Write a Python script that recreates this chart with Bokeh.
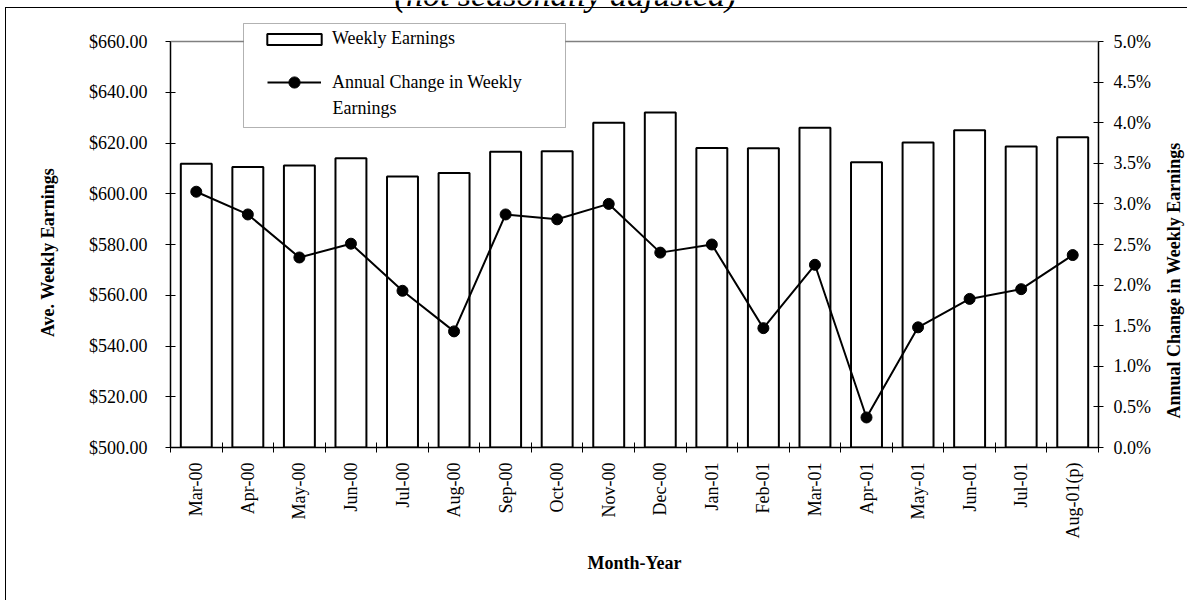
import math
from bokeh.plotting import figure
from bokeh.models import (ColumnDataSource, Range1d, LinearAxis, FixedTicker,
                          NumeralTickFormatter, CustomJSTickFormatter, Legend,
                          LegendItem, BoxAnnotation, Label, Span)
from bokeh.embed import file_html
from bokeh.resources import INLINE

# ---------------- data ----------------
months = ["Mar-00", "Apr-00", "May-00", "Jun-00", "Jul-00", "Aug-00", "Sep-00",
          "Oct-00", "Nov-00", "Dec-00", "Jan-01", "Feb-01", "Mar-01", "Apr-01",
          "May-01", "Jun-01", "Jul-01", "Aug-01(p)"]
weekly_earnings = [611.8, 610.5, 611.1, 614.0, 606.8, 608.2, 616.6, 616.7, 628.0,
                   632.0, 618.0, 617.9, 626.0, 612.4, 620.2, 625.0, 618.6, 622.3]
annual_change_pct = [3.15, 2.87, 2.34, 2.51, 1.93, 1.43, 2.87, 2.81, 3.00, 2.40,
                     2.50, 1.47, 2.25, 0.37, 1.48, 1.83, 1.95, 2.37]
left_ticks = [500, 520, 540, 560, 580, 600, 620, 640, 660]
right_ticks = [0.0, 0.5, 1.0, 1.5, 2.0, 2.5, 3.0, 3.5, 4.0, 4.5, 5.0]

FONT = "Liberation Serif"

# layout (pixels)
FRAME_W, AXIS_H, HEAD = 928, 406, 41   # head = room above the $660 line inside frame
LEFT_MIN, LEFT_MAX = 500, 660
RIGHT_MIN, RIGHT_MAX = 0, 5
top_left = LEFT_MAX + HEAD * (LEFT_MAX - LEFT_MIN) / AXIS_H
top_right = RIGHT_MAX + HEAD * (RIGHT_MAX - RIGHT_MIN) / AXIS_H

xpos = [i + 0.5 for i in range(len(months))]
src = ColumnDataSource(dict(x=xpos, earn=weekly_earnings, pct=annual_change_pct, m=months))

p = figure(width=1187, height=600, frame_width=FRAME_W, frame_height=AXIS_H + HEAD,
           min_border_left=170, min_border_right=89, min_border_top=0, min_border_bottom=153,
           x_range=Range1d(0, len(months)), y_range=Range1d(LEFT_MIN, top_left),
           output_backend="svg", toolbar_location=None, tools="")
p.extra_y_ranges = {"pct": Range1d(RIGHT_MIN, top_right)}
p.xgrid.visible = False
p.ygrid.visible = False
p.outline_line_color = None
p.background_fill_alpha = 0
p.border_fill_alpha = 0
# outer chart border (left and top edges) drawn behind the transparent canvas
p.styles = {
    "background-color": "white",
    "background-image": "linear-gradient(#000,#000), linear-gradient(#000,#000)",
    "background-size": "1px 100%, 100% 1px",
    "background-position": "5px 7px, 5px 7px",
    "background-repeat": "no-repeat",
}

# top line of the plot area at $660
p.add_layout(Span(location=LEFT_MAX, dimension="width", line_color="#808080", line_width=1.5))

bars = p.vbar(x="x", top="earn", bottom=LEFT_MIN, width=0.6, source=src,
              fill_color="white", line_color="black", line_width=2)
ln = p.line(x="x", y="pct", source=src, y_range_name="pct", line_color="black", line_width=2)
dots = p.scatter(x="x", y="pct", source=src, y_range_name="pct", size=11,
                 fill_color="black", line_color="black")

# x axis
xa = p.xaxis[0]
xa.ticker = FixedTicker(ticks=xpos, minor_ticks=list(range(len(months) + 1)))
xa.formatter = CustomJSTickFormatter(args=dict(labels=months),
                                     code="return labels[Math.floor(tick)];")
xa.major_label_orientation = math.pi / 2
xa.major_tick_in = 0
xa.major_tick_out = 0
xa.minor_tick_in = 5
xa.minor_tick_out = 5
xa.major_label_standoff = 10
xa.axis_label = "Month-Year"
xa.axis_label_standoff = 12

# left axis
ya = p.yaxis[0]
ya.ticker = FixedTicker(ticks=left_ticks)
ya.formatter = NumeralTickFormatter(format="$0.00")
ya.bounds = (LEFT_MIN, LEFT_MAX)
ya.major_tick_in = 5
ya.major_tick_out = 5
ya.major_label_standoff = 18

# right axis
ra = LinearAxis(y_range_name="pct")
ra.ticker = FixedTicker(ticks=right_ticks)
ra.formatter = CustomJSTickFormatter(code="return tick.toFixed(1) + '%';")
ra.bounds = (RIGHT_MIN, RIGHT_MAX)
ra.major_tick_in = 5
ra.major_tick_out = 5
ra.major_label_standoff = 10
p.add_layout(ra, "right")

for ax in (xa, ya, ra):
    ax.axis_line_color = "black"
    ax.axis_line_width = 1.5
    ax.major_tick_line_color = "black"
    ax.minor_tick_line_color = "black" if ax is xa else None
    ax.major_label_text_font = FONT
    ax.major_label_text_font_size = "18px"
    ax.major_label_text_color = "black"
    ax.axis_label_text_font = FONT
    ax.axis_label_text_font_size = "18px"
    ax.axis_label_text_font_style = "bold"
    ax.axis_label_text_color = "black"

# vertical axis titles (reading bottom-to-top), placed in the side panels
label_style = dict(x_units="canvas", y_units="canvas", angle=math.pi / 2,
                   text_font=FONT, text_font_size="18px", text_font_style="bold",
                   text_align="center", text_baseline="middle", text_color="black")
p.add_layout(Label(x=47, y=252, text="Ave. Weekly Earnings", **label_style), "left")
p.add_layout(Label(x=1173, y=280, text="Annual Change in Weekly Earnings", **label_style), "right")

# legend box
lbox = BoxAnnotation(left=243, right=565, top=23, bottom=127,
                     left_units="canvas", right_units="canvas",
                     top_units="canvas", bottom_units="canvas",
                     fill_color="white", fill_alpha=1, line_color="black", line_width=1)
p.add_layout(lbox)

common = dict(orientation="vertical", padding=0, margin=0, spacing=0,
              label_text_font=FONT, label_text_font_size="18px", label_text_color="black",
              background_fill_alpha=0, border_line_alpha=0, label_height=14)
legend1 = Legend(items=[LegendItem(label="Weekly Earnings", renderers=[bars])],
                 location=(90, 398), glyph_width=68, glyph_height=14, label_standoff=4, **common)
legend2 = Legend(items=[LegendItem(label="Annual Change in Weekly", renderers=[ln, dots])],
                 location=(97, 351), glyph_width=54, glyph_height=28, label_standoff=11, **common)
p.add_layout(legend1, "center")
p.add_layout(legend2, "center")
p.add_layout(Label(x=332, y=107, x_units="canvas", y_units="canvas", text="Earnings",
                   text_font=FONT, text_font_size="18px", text_baseline="middle",
                   text_color="black"))

# chart title, mostly above the visible area as in the original
title = Label(x=565, y=-6, x_units="canvas", y_units="canvas",
              text="(not seasonally adjusted)", text_font=FONT, text_font_size="34px",
              text_font_style="italic", text_align="center", text_baseline="alphabetic",
              text_color="black")
p.add_layout(title)

open("out.html", "w").write(file_html(p, INLINE))
